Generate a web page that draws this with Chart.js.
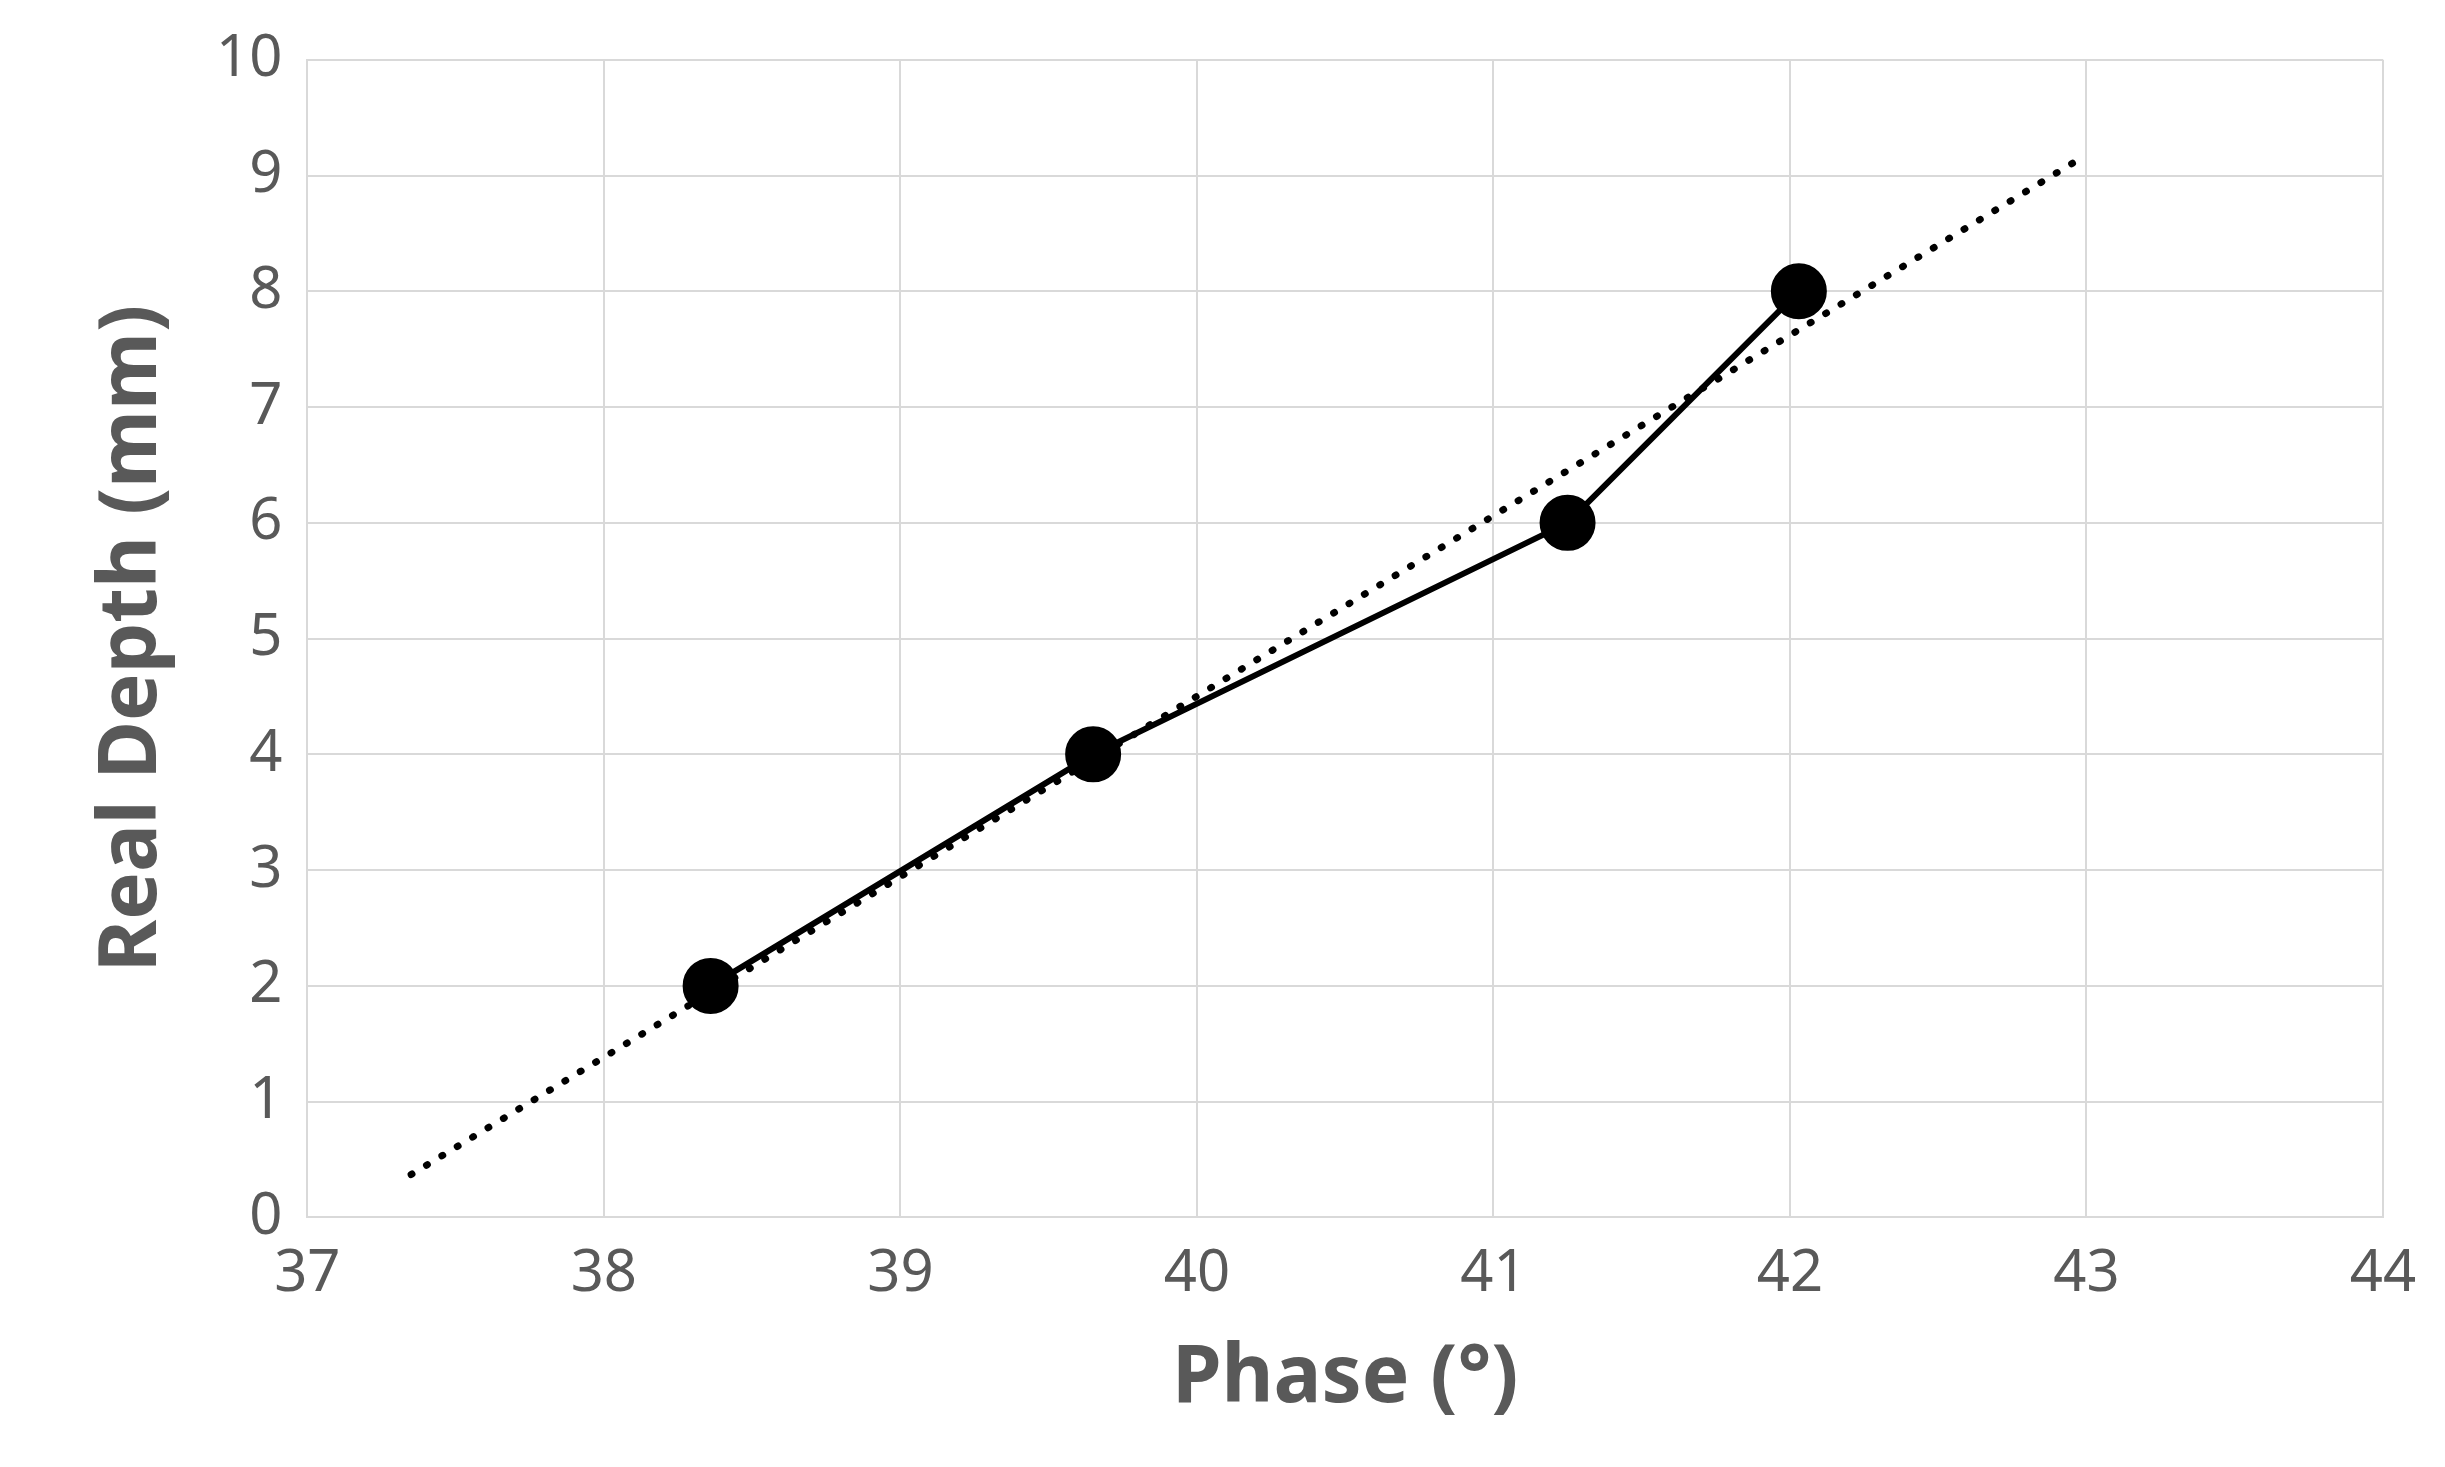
<!DOCTYPE html>
<html>
<head>
<meta charset="utf-8">
<script src="https://cdn.jsdelivr.net/npm/chart.js@4"></script>
<style>
  html, body { margin: 0; padding: 0; background: #fff; }
  canvas { display: block; }
</style>
</head>
<body>
<canvas id="chart" width="2445" height="1467"></canvas>
<script>
const phase = [38.36, 39.65, 41.25, 42.03];
const depth = [2, 4, 6, 8];
const trendX = [37.35, 43];
const trendY = [0.37, 9.18];

const gray = '#595959';
const ctx = document.getElementById('chart').getContext('2d');

new Chart(ctx, {
    type: 'scatter',
    data: {
        datasets: [
            {
                label: 'trend',
                data: trendX.map((x, i) => ({ x: x, y: trendY[i] })),
                showLine: true,
                borderColor: '#000',
                borderWidth: 7,
                borderDash: [1, 17],
                borderCapStyle: 'round',
                pointRadius: 0,
                fill: false
            },
            {
                label: 'depth',
                data: phase.map((x, i) => ({ x: x, y: depth[i] })),
                showLine: true,
                borderColor: '#000',
                borderWidth: 6,
                backgroundColor: '#000',
                pointRadius: 25,
                pointHoverRadius: 25,
                fill: false
            }
        ]
    },
    options: {
        responsive: false,
        animation: false,
        layout: { padding: { left: 75, right: 62, top: 45, bottom: 40 } },
        plugins: { legend: { display: false }, tooltip: { enabled: false } },
        scales: {
            x: {
                min: 37, max: 44,
                ticks: { stepSize: 1, color: gray, font: { family: 'Noto Sans', size: 58 }, padding: 22 },
                grid: { color: '#d9d9d9', lineWidth: 2, drawTicks: false },
                border: { color: '#d9d9d9', width: 2 },
                title: { display: true, text: 'Phase (°)', color: gray, font: { family: 'Noto Sans', size: 80, weight: 'bold' }, padding: 0 }
            },
            y: {
                min: 0, max: 10,
                ticks: { stepSize: 1, color: gray, font: { family: 'Noto Sans', size: 58 }, padding: 25 },
                grid: { color: '#d9d9d9', lineWidth: 2, drawTicks: false },
                border: { color: '#d9d9d9', width: 2 },
                title: { display: true, text: 'Real Depth (mm)', color: gray, font: { family: 'Noto Sans', size: 80, weight: 'bold' }, padding: 10 }
            }
        }
    }
});
</script>
</body>
</html>
